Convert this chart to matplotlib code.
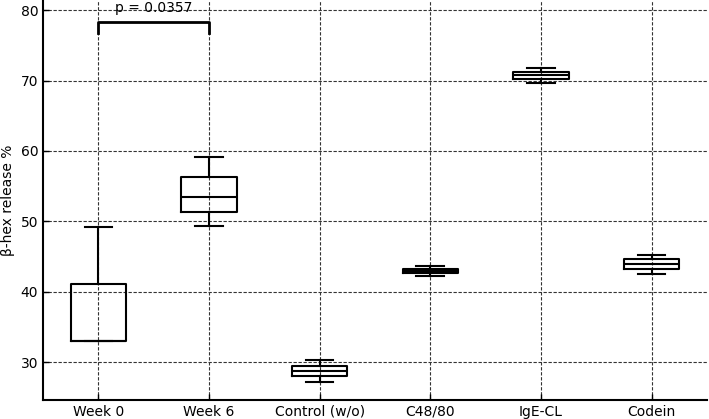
import matplotlib
matplotlib.use("Agg")
import matplotlib.pyplot as plt

groups = ["Week 0", "Week 6", "Control (w/o)", "C48/80", "IgE-CL", "Codein"]
whislo = [33.0, 49.3, 27.2, 42.26, 69.73, 42.55]
q1 = [33.0, 51.35, 28.0, 42.6, 70.24, 43.17]
med = [33.0, 53.4, 28.77, 42.93, 70.8, 43.87]
q3 = [41.1, 56.3, 29.5, 43.26, 71.29, 44.58]
whishi = [49.2, 59.2, 30.3, 43.6, 71.86, 45.2]

p_text = "p = 0.0357"
bracket_y = 78.35
bracket_drop = 76.75

fig = plt.figure(figsize=(7.09, 4.19), dpi=100)
ax = fig.add_axes([0.0607, 0.0453, 0.9363, 0.952])

stats = []
for i in range(len(groups)):
    stats.append(dict(label=groups[i], whislo=whislo[i], q1=q1[i], med=med[i],
                      q3=q3[i], whishi=whishi[i], fliers=[]))

lw = 1.5
ax.bxp(stats, positions=range(1, len(groups) + 1), widths=0.5, showfliers=False,
       boxprops=dict(color="black", linewidth=lw),
       medianprops=dict(color="black", linewidth=lw),
       whiskerprops=dict(color="black", linewidth=lw),
       capprops=dict(color="black", linewidth=lw))

ax.set_xlim(0.5, len(groups) + 0.5)
ax.set_ylim(24.6, 81.3)
ax.set_yticks([30, 40, 50, 60, 70, 80])
ax.set_ylabel("β-hex release %", fontsize=10)
ax.tick_params(direction="in", labelsize=10, width=1, length=4)
ax.grid(True, linestyle=(0, (3, 1.5)), color="#333333", linewidth=0.8)
ax.set_axisbelow(True)
for s in ["top", "right"]:
    ax.spines[s].set_visible(False)
for s in ["left", "bottom"]:
    ax.spines[s].set_linewidth(1.5)

# significance bracket
ax.plot([1, 1, 2, 2], [bracket_drop, bracket_y, bracket_y, bracket_drop],
        color="black", linewidth=2)
ax.text(1.5, bracket_y + 0.95, p_text, ha="center", va="bottom", fontsize=10)

fig.savefig("out.png", dpi=100)
